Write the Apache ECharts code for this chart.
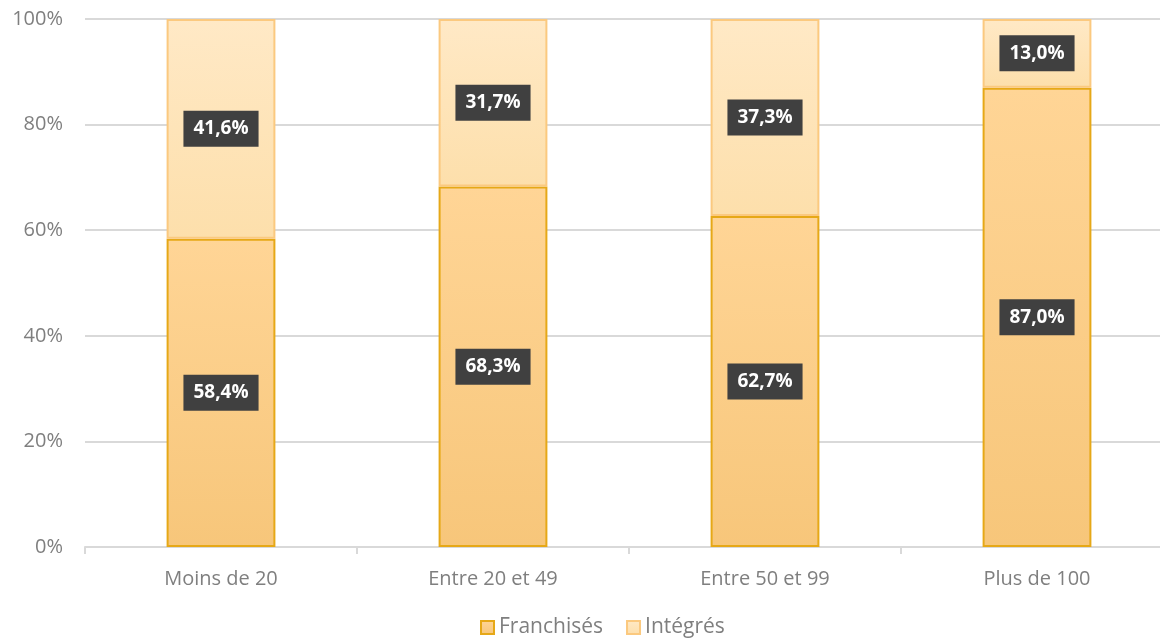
<!DOCTYPE html>
<html>
<head>
<meta charset="utf-8">
<script src="https://cdn.jsdelivr.net/npm/echarts@6/dist/echarts.min.js"></script>
<style>html,body{margin:0;padding:0;background:#fff}#c{width:1160px;height:642px}</style>
</head>
<body>
<div id="c"></div>
<script>
var categories = ['Moins de 20', 'Entre 20 et 49', 'Entre 50 et 99', 'Plus de 100'];
var franchises = [58.4, 68.3, 62.7, 87.0];
var integres = [41.6, 31.7, 37.3, 13.0];
var seriesNames = ['Franchisés', 'Intégrés'];
var yTicks = [0, 20, 40, 60, 80, 100];

var font = '"Open Sans", "Noto Sans", sans-serif';
var chart = echarts.init(document.getElementById('c'));
function fmt(v) { return v.toFixed(1).replace('.', ',') + '%'; }
var labelCfg = {
  show: true, position: 'inside',
  formatter: function (p) { return fmt(p.value); },
  color: '#fff', fontWeight: 'bold', fontSize: 19, fontFamily: font,
  backgroundColor: '#404040', padding: [10, 10, 7, 10]
};
chart.setOption({
  animation: false,
  grid: { left: 85, width: 1088, top: 19, bottom: 95, outerBoundsMode: 'none', containLabel: false },
  legend: {
    top: 612, left: 475, itemWidth: 13, itemHeight: 13, itemGap: 23, icon: 'rect',
    textStyle: { color: '#7f7f7f', fontSize: 21, fontFamily: font },
    data: seriesNames
  },
  xAxis: {
    type: 'category', data: categories,
    axisLine: { lineStyle: { color: '#d9d9d9', width: 2 } },
    axisTick: { show: true, length: 7, lineStyle: { color: '#d9d9d9', width: 2 } },
    axisLabel: { color: '#7f7f7f', fontSize: 20, fontFamily: font, margin: 22 }
  },
  yAxis: {
    type: 'value', min: 0, max: 100, interval: 20,
    axisLabel: { formatter: function (v) { return yTicks.indexOf(v) >= 0 ? v + '%' : ''; }, color: '#7f7f7f', fontSize: 20, fontFamily: font, margin: 22 },
    axisLine: { show: false }, axisTick: { show: false },
    splitLine: { lineStyle: { color: '#d9d9d9', width: 2 } }
  },
  series: [
    {
      name: seriesNames[0], type: 'bar', stack: 's', data: franchises, barWidth: '40%',
      itemStyle: {
        color: new echarts.graphic.LinearGradient(0, 0, 0, 1, [{ offset: 0, color: '#ffd596' }, { offset: 1, color: '#f7c67a' }]),
        borderColor: '#e6a817', borderWidth: 2
      },
      label: labelCfg
    },
    {
      name: seriesNames[1], type: 'bar', stack: 's', data: integres, barWidth: '40%',
      itemStyle: {
        color: new echarts.graphic.LinearGradient(0, 0, 0, 1, [{ offset: 0, color: '#ffe9c6' }, { offset: 1, color: '#fddfab' }]),
        borderColor: '#fbc97f', borderWidth: 2
      },
      label: labelCfg
    }
  ]
});
</script>
</body>
</html>
